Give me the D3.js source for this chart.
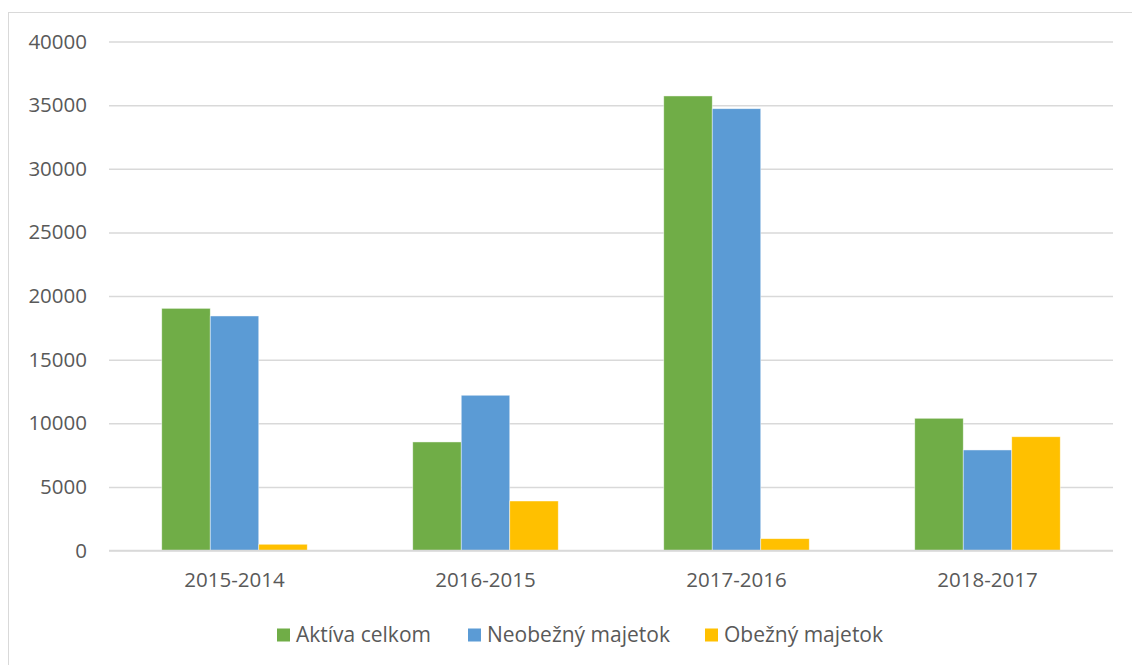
<!DOCTYPE html>
<html>
<head>
<meta charset="utf-8">
<script src="https://cdn.jsdelivr.net/npm/d3@7"></script>
<style>
  html, body { margin: 0; padding: 0; background: #fff; }
  svg { display: block; }
  text { font-family: "Open Sans", "Noto Sans", sans-serif; fill: #595959; }
</style>
</head>
<body>
<svg id="chart" width="1132" height="665"></svg>
<script>
// Year-over-year differences per period
const periods = ["2015-2014", "2016-2015", "2017-2016", "2018-2017"];
const seriesNames = ["Aktíva celkom", "Neobežný majetok", "Obežný majetok"];
const aktivaCelkom = [19030, 8530, 35720, 10390];
const neobeznyMajetok = [18430, 12200, 34720, 7900];
const obeznyMajetok = [490, 3890, 930, 8940];
const seriesColors = ["#70AD47", "#5B9BD5", "#FFC000"];
const yTicks = [0, 5000, 10000, 15000, 20000, 25000, 30000, 35000, 40000];

const seriesValues = [aktivaCelkom, neobeznyMajetok, obeznyMajetok];

const svg = d3.select("#chart");
const font = '"Open Sans", "Noto Sans", sans-serif';

// Chart frame
svg.append("rect")
  .attr("x", 8.5).attr("y", 12.5)
  .attr("width", 1140).attr("height", 670)
  .attr("fill", "none").attr("stroke", "#d9d9d9").attr("stroke-width", 1);

const plot = { left: 109, right: 1113, top: 41.5, bottom: 550.5 };

const x = d3.scaleBand().domain(periods).range([plot.left, plot.right]);
// three bars per period, each roughly 48.5px wide, centred in the band
const barWidth = 48.5;
const xInner = d3.scaleBand().domain(seriesNames)
  .range([0, x.bandwidth()]).paddingInner(0)
  .paddingOuter((x.bandwidth() / barWidth - seriesNames.length) / 2);
const y = d3.scaleLinear().domain([0, 40000]).range([plot.bottom, plot.top]);

// Horizontal gridlines
svg.append("g")
  .attr("transform", `translate(${plot.left},0)`)
  .call(d3.axisLeft(y).tickValues(yTicks).tickSize(-(plot.right - plot.left)).tickFormat(""))
  .call(g => g.select(".domain").remove())
  .call(g => g.selectAll(".tick line").attr("stroke", "#d9d9d9").attr("stroke-width", 1.5));

// Y axis labels
svg.append("g")
  .attr("transform", `translate(${plot.left - 22},0)`)
  .call(d3.axisLeft(y).tickValues(yTicks).tickSize(0).tickPadding(0).tickFormat(d3.format("d")))
  .call(g => g.select(".domain").remove())
  .call(g => g.selectAll(".tick text")
    .attr("font-size", 20.5).attr("fill", "#595959")
    .style("font-family", font));

// Bars
const groups = svg.append("g").selectAll("g")
  .data(periods)
  .join("g")
  .attr("transform", d => `translate(${x(d)},0)`);

groups.selectAll("rect")
  .data((p, i) => seriesNames.map((s, j) => ({ s, v: seriesValues[j][i], c: seriesColors[j] })))
  .join("rect")
  .attr("x", d => xInner(d.s))
  .attr("width", xInner.bandwidth())
  .attr("y", d => y(d.v))
  .attr("height", d => y(0) - y(d.v))
  .attr("fill", d => d.c)
  .attr("stroke", "#ffffff")
  .attr("stroke-opacity", 0.6)
  .attr("stroke-width", 0.75);

// Baseline
svg.append("line")
  .attr("x1", plot.left).attr("x2", plot.right)
  .attr("y1", plot.bottom).attr("y2", plot.bottom)
  .attr("stroke", "#d9d9d9").attr("stroke-width", 1.5);

// X axis labels
svg.append("g")
  .attr("transform", `translate(0,${plot.bottom + 14})`)
  .call(d3.axisBottom(x).tickSize(0).tickPadding(8))
  .call(g => g.select(".domain").remove())
  .call(g => g.selectAll(".tick text")
    .attr("font-size", 20.5).attr("fill", "#595959")
    .style("font-family", font));

// Legend
const legendX = [277, 468, 705];
const legend = svg.append("g").selectAll("g")
  .data(seriesNames)
  .join("g")
  .attr("transform", (d, i) => `translate(${legendX[i]},635)`);
legend.append("rect")
  .attr("x", 0).attr("y", -6.5).attr("width", 13).attr("height", 13)
  .attr("fill", (d, i) => seriesColors[i]);
legend.append("text")
  .attr("x", 19).attr("y", 0).attr("dy", "0.35em")
  .attr("font-size", 21)
  .text(d => d);
</script>
</body>
</html>
